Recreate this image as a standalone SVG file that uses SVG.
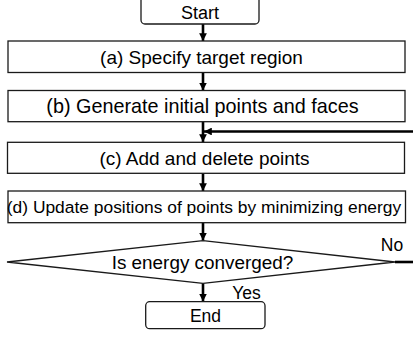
<svg xmlns="http://www.w3.org/2000/svg" width="413" height="337" viewBox="0 0 413 337">
<defs>
<style>
.box{fill:#fff;stroke:#1a1a1a;stroke-width:1.3}
.t{font-family:"Liberation Sans",Arial,sans-serif;fill:#000;text-anchor:middle}
.c{stroke:#000;stroke-width:2.6;fill:none}
</style>
<marker id="ah" viewBox="0 0 10 10" refX="10" refY="5" markerWidth="3" markerHeight="3" orient="auto" markerUnits="strokeWidth">
<path d="M0,0 L10,5 L0,10 Z" fill="#000"/>
</marker>
</defs>
<rect width="413" height="337" fill="#fff"/>
<g id="connectors">
<line class="c" x1="203" y1="24" x2="203" y2="41" marker-end="url(#ah)"/>
<line class="c" x1="203" y1="72.5" x2="203" y2="90.5" marker-end="url(#ah)"/>
<line class="c" x1="203" y1="122" x2="203" y2="142" marker-end="url(#ah)"/>
<line class="c" x1="413" y1="131.5" x2="204" y2="131.5" marker-end="url(#ah)"/>
<line class="c" x1="203" y1="173.5" x2="203" y2="191" marker-end="url(#ah)"/>
<line class="c" x1="203" y1="223" x2="203" y2="240.5" marker-end="url(#ah)"/>
<line class="c" x1="395" y1="262" x2="413" y2="262"/>
<line class="c" x1="203" y1="283.5" x2="203" y2="301.5" marker-end="url(#ah)"/>
</g>
<g id="start">
<rect class="box" x="141" y="-4" width="118" height="28" rx="4"/>
<text class="t" x="200" y="18.5" font-size="18">Start</text>
</g>
<g id="a">
<rect class="box" x="8" y="41" width="397" height="31.5"/>
<text class="t" x="201.5" y="63.5" font-size="19">(a) Specify target region</text>
</g>
<g id="b">
<rect class="box" x="8" y="90.5" width="397" height="31.2"/>
<text class="t" x="202.5" y="113" font-size="19.8">(b) Generate initial points and faces</text>
</g>
<g id="c">
<rect class="box" x="7.5" y="142.3" width="397" height="31"/>
<text class="t" x="204.5" y="164.5" font-size="19">(c) Add and delete points</text>
</g>
<g id="d">
<rect class="box" x="8" y="191" width="397.5" height="31.7"/>
<text class="t" x="204" y="213" font-size="17.4">(d) Update positions of points by minimizing energy</text>
</g>
<g id="decision">
<polygon class="box" points="203,240.7 395,262 203,283.3 7,262"/>
<text class="t" x="202.5" y="269" font-size="18.9">Is energy converged?</text>
<text class="t" x="392" y="250.5" font-size="17.5">No</text>
<text class="t" x="246.5" y="299" font-size="17.5">Yes</text>
</g>
<g id="end">
<rect class="box" x="145.7" y="301.7" width="119.3" height="27" rx="4"/>
<text class="t" x="205.5" y="321.5" font-size="17.5">End</text>
</g>
</svg>
